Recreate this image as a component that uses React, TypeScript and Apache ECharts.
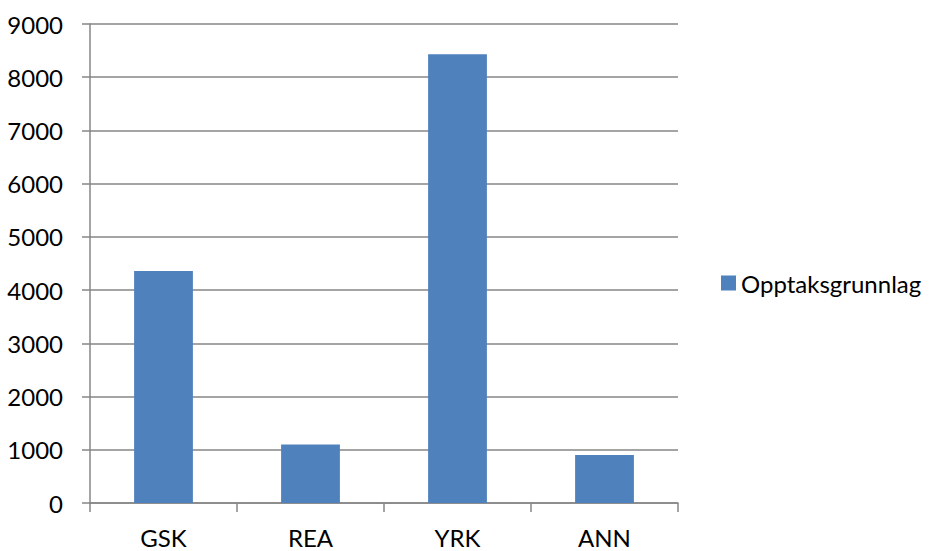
import React, { useEffect, useRef } from "react";
import * as echarts from "echarts";

const categories = ["GSK", "REA", "YRK", "ANN"];
const seriesName = "Opptaksgrunnlag";
const values = [4360, 1100, 8430, 900];
const yMin = 0;
const yMax = 9000;
const yInterval = 1000;

export default function App() {
  const ref = useRef<HTMLDivElement>(null);
  useEffect(() => {
    if (!ref.current) return;
    const chart = echarts.init(ref.current, undefined, { renderer: "svg" });
    const font = "Lato, 'Open Sans', sans-serif";
    chart.setOption({
      animation: false,
      backgroundColor: "#ffffff",
      grid: { left: 90, right: 255, top: 24, bottom: 48, containLabel: false },
      legend: {
        show: true,
        orient: "vertical",
        left: 716,
        top: 266,
        itemWidth: 15,
        itemHeight: 15,
        icon: "rect",
        data: [seriesName],
        textStyle: { fontFamily: font, fontSize: 24, color: "#000000", padding: [0, 0, 0, 0] },
      },
      xAxis: {
        type: "category",
        data: categories,
        boundaryGap: true,
        axisLine: { show: true, lineStyle: { color: "#868686", width: 1.5 } },
        axisTick: { show: true, length: 9, alignWithLabel: false, lineStyle: { color: "#868686", width: 1.5 } },
        axisLabel: { fontFamily: font, fontSize: 24, color: "#000000", margin: 22 },
        splitLine: { show: false },
      },
      yAxis: {
        type: "value",
        min: yMin,
        max: yMax,
        interval: yInterval,
        axisLine: { show: true, lineStyle: { color: "#868686", width: 1.5 } },
        axisTick: { show: true, length: 8, lineStyle: { color: "#868686", width: 1.5 } },
        axisLabel: {
          fontFamily: font,
          fontSize: 24,
          color: "#000000",
          margin: 27,
          formatter: (v: number) => String(v),
        },
        splitLine: { show: true, lineStyle: { color: "#868686", width: 1.5 } },
      },
      series: [
        {
          name: seriesName,
          type: "bar",
          data: values,
          barWidth: "40%",
          itemStyle: { color: "#4F81BD" },
        },
      ],
    });
    return () => chart.dispose();
  }, []);
  return <div ref={ref} style={{ width: 933, height: 551, position: "absolute", left: 0, top: 0 }} />;
}
